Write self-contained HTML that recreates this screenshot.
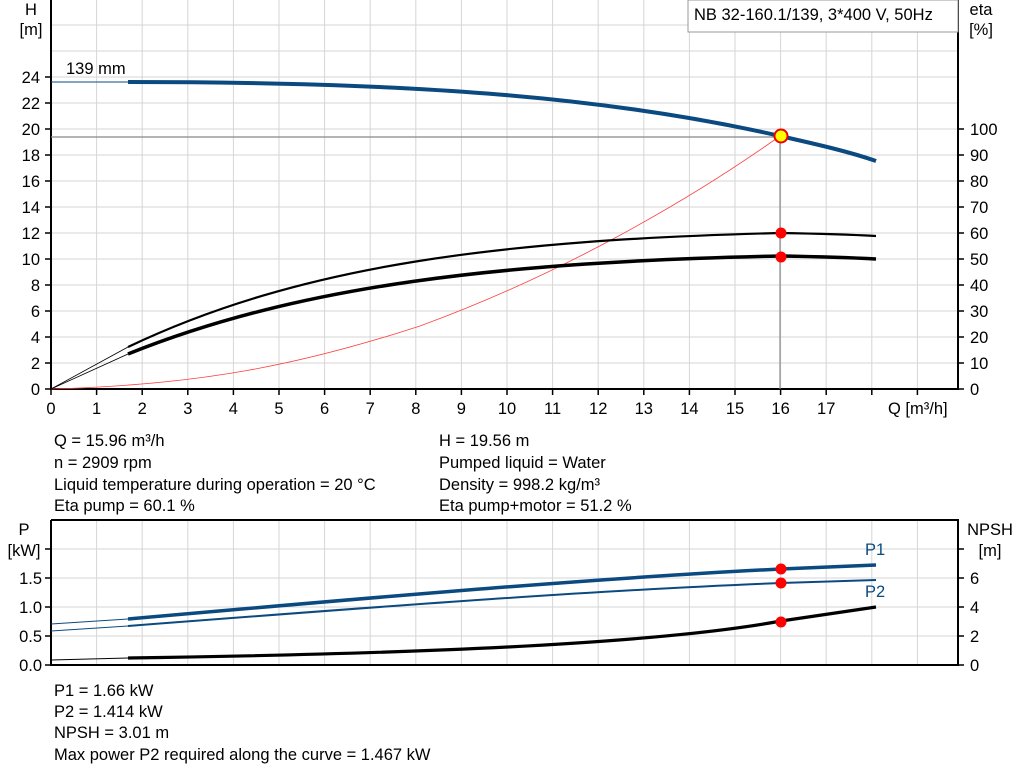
<!DOCTYPE html>
<html><head><style>
body{margin:0;background:#fff;}
svg{display:block;font-family:"Liberation Sans",Arial,sans-serif;}
</style></head><body>
<svg width="1024" height="781" viewBox="0 0 1024 781" xmlns="http://www.w3.org/2000/svg">
<g stroke="#d6d6d6" stroke-width="1">
<path d="M96.6 0V389M142.2 0V389M187.8 0V389M233.4 0V389M279 0V389M324.6 0V389M370.2 0V389M415.8 0V389M461.4 0V389M507 0V389M552.6 0V389M598.2 0V389M643.8 0V389M689.4 0V389M735 0V389M780.6 0V389M826.2 0V389M871.8 0V389M917.4 0V389"/>
<path d="M51 363H958M51 337H958M51 311H958M51 285H958M51 259H958M51 233H958M51 207H958M51 181H958M51 155H958M51 129H958M51 103H958M51 77H958M51 51H958M51 25H958"/>
<path d="M96.6 520V665M142.2 520V665M187.8 520V665M233.4 520V665M279 520V665M324.6 520V665M370.2 520V665M415.8 520V665M461.4 520V665M507 520V665M552.6 520V665M598.2 520V665M643.8 520V665M689.4 520V665M735 520V665M780.6 520V665M826.2 520V665M871.8 520V665M917.4 520V665"/>
<path d="M51 636H958M51 607H958M51 578H958M51 549H958"/>
</g>
<g stroke="#000" stroke-width="2" fill="none">
<path d="M51 0V389H958V0"/>
<path d="M51 520V665H958V520H51"/>
</g>
<g stroke="#000" stroke-width="1.5">
<path d="M45 389H51M45 363H51M45 337H51M45 311H51M45 285H51M45 259H51M45 233H51M45 207H51M45 181H51M45 155H51M45 129H51M45 103H51M45 77H51"/>
<path d="M958 389H964M958 363H964M958 337H964M958 311H964M958 285H964M958 259H964M958 233H964M958 207H964M958 181H964M958 155H964M958 129H964"/>
<path d="M51 389V395M96.6 389V395M142.2 389V395M187.8 389V395M233.4 389V395M279 389V395M324.6 389V395M370.2 389V395M415.8 389V395M461.4 389V395M507 389V395M552.6 389V395M598.2 389V395M643.8 389V395M689.4 389V395M735 389V395M780.6 389V395M826.2 389V395M871.8 389V395M917.4 389V395"/>
<path d="M45 665H51M45 636H51M45 607H51M45 578H51M45 549H51"/>
<path d="M958 665H964M958 636H964M958 607H964M958 578H964M958 549H964"/>
</g>
<g font-size="16.5" fill="#000" text-anchor="end">
<text x="40" y="395">0</text><text x="40" y="369">2</text><text x="40" y="343">4</text><text x="40" y="317">6</text><text x="40" y="291">8</text><text x="40" y="265">10</text><text x="40" y="239">12</text><text x="40" y="213">14</text><text x="40" y="187">16</text><text x="40" y="161">18</text><text x="40" y="135">20</text><text x="40" y="109">22</text><text x="40" y="83">24</text>
<text x="42" y="671">0.0</text><text x="42" y="642">0.5</text><text x="42" y="613">1.0</text><text x="42" y="584">1.5</text>
</g>
<g font-size="16.5" fill="#000" text-anchor="start">
<text x="970" y="395">0</text><text x="970" y="369">10</text><text x="970" y="343">20</text><text x="970" y="317">30</text><text x="970" y="291">40</text><text x="970" y="265">50</text><text x="970" y="239">60</text><text x="970" y="213">70</text><text x="970" y="187">80</text><text x="970" y="161">90</text><text x="970" y="135">100</text>
<text x="970" y="671">0</text><text x="970" y="642">2</text><text x="970" y="613">4</text><text x="970" y="584">6</text>
</g>
<g font-size="16.5" text-anchor="middle">
<text x="51" y="414">0</text><text x="96.6" y="414">1</text><text x="142.2" y="414">2</text><text x="187.8" y="414">3</text><text x="233.4" y="414">4</text><text x="279" y="414">5</text><text x="324.6" y="414">6</text><text x="370.2" y="414">7</text><text x="415.8" y="414">8</text><text x="461.4" y="414">9</text><text x="507" y="414">10</text><text x="552.6" y="414">11</text><text x="598.2" y="414">12</text><text x="643.8" y="414">13</text><text x="689.4" y="414">14</text><text x="735" y="414">15</text><text x="780.6" y="414">16</text><text x="826.2" y="414">17</text>
<text x="31" y="15">H</text><text x="31" y="35">[m]</text>
<text x="981" y="15">eta</text><text x="981" y="35">[%]</text>
<text x="24" y="535">P</text><text x="24" y="556">[kW]</text>
<text x="990" y="535">NPSH</text><text x="990" y="556">[m]</text>
</g>
<text x="888" y="414" font-size="16.5">Q [m³/h]</text>
<text x="66" y="74" font-size="16.5">139 mm</text>
<rect x="688" y="0" width="270" height="32" fill="#fff" stroke="#999"/>
<text x="694" y="20" font-size="16.5">NB 32-160.1/139, 3*400 V, 50Hz</text>
<path d="M51 137H780V389" stroke="#888" stroke-width="1.2" fill="none"/>
<path d="M51 389 C 200 385 300 365 420 326 C 560 275 690 200 780 136" stroke="#ff4040" stroke-width="0.8" fill="none"/>
<path d="M51 82H128" stroke="#0b4a80" stroke-width="1"/>
<path d="M128 82 C 400 82 600 95 780 136 C 820 145 850 152 876 161" stroke="#0b4a80" stroke-width="4" fill="none"/>
<path d="M51 389L128 347" stroke="#000" stroke-width="0.8"/>
<path d="M128 347 C 300 265 500 240 780 233 Q 840 234 876 236" stroke="#000" stroke-width="2.2" fill="none"/>
<path d="M51 389L128 354" stroke="#000" stroke-width="0.8"/>
<path d="M128 354 C 300 285 500 262 780 256 Q 840 257 876 259" stroke="#000" stroke-width="3.5" fill="none"/>
<circle cx="781" cy="136" r="6.5" fill="#ffff00" stroke="#e00" stroke-width="2"/>
<circle cx="781" cy="233" r="5.5" fill="#f00"/>
<circle cx="781" cy="257" r="5.5" fill="#f00"/>
<path d="M51 624L128 619" stroke="#0b4a80" stroke-width="1"/>
<path d="M128 619 C 400 595 600 578 781 569 L876 565" stroke="#0b4a80" stroke-width="3.5" fill="none"/>
<path d="M51 631L128 626" stroke="#0b4a80" stroke-width="1"/>
<path d="M128 626 C 400 605 600 590 781 583 L876 580" stroke="#0b4a80" stroke-width="2" fill="none"/>
<path d="M51 660L128 658" stroke="#000" stroke-width="1"/>
<path d="M128 658 C 400 654 650 645 781 621 L876 607" stroke="#000" stroke-width="3.2" fill="none"/>
<circle cx="781" cy="569" r="5.5" fill="#f00"/>
<circle cx="781" cy="583" r="5.5" fill="#f00"/>
<circle cx="781" cy="622" r="5.5" fill="#f00"/>
<text x="865" y="555" font-size="16.5" fill="#0b4a80">P1</text>
<text x="865" y="597" font-size="16.5" fill="#0b4a80">P2</text>
<g font-size="16.5">
<text x="54" y="446">Q = 15.96 m³/h</text>
<text x="54" y="468">n = 2909 rpm</text>
<text x="54" y="490">Liquid temperature during operation = 20 °C</text>
<text x="54" y="511">Eta pump = 60.1 %</text>
<text x="439" y="446">H = 19.56 m</text>
<text x="439" y="468">Pumped liquid = Water</text>
<text x="439" y="490">Density = 998.2 kg/m³</text>
<text x="439" y="511">Eta pump+motor = 51.2 %</text>
<text x="54" y="696">P1 = 1.66 kW</text>
<text x="54" y="717">P2 = 1.414 kW</text>
<text x="54" y="738">NPSH = 3.01 m</text>
<text x="54" y="760">Max power P2 required along the curve = 1.467 kW</text>
</g>
</svg>
</body></html>
